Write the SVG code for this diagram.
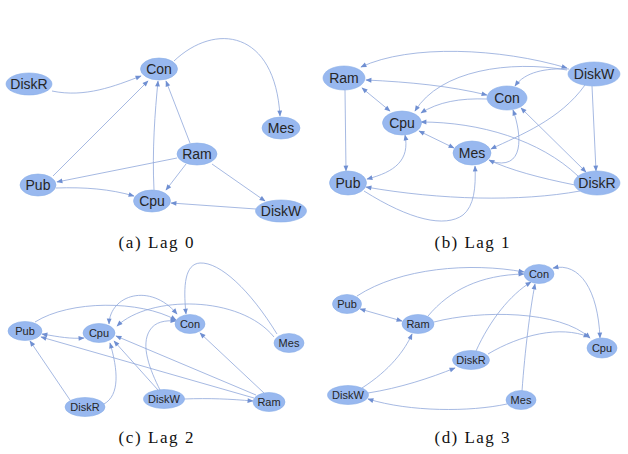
<svg xmlns="http://www.w3.org/2000/svg" width="628" height="454" viewBox="0 0 628 454">
<style>
.n{fill:#98b8ef;stroke:#8aaee8;stroke-width:0.6}
.t{font-family:"Liberation Sans",Arial,sans-serif;fill:#262626;text-anchor:middle;dominant-baseline:central}
.a .t{font-size:14px}
.s .t{font-size:11px}
.e path{fill:none;stroke:#8fa7da;stroke-width:0.8;marker-end:url(#ah)}
.e path.b{marker-start:url(#ah)}
.cap{font-family:"Liberation Serif","Times New Roman",serif;font-size:17px;fill:#111;text-anchor:middle}
</style>
<defs>
<marker id="ah" viewBox="0 0 10 10" refX="9" refY="5" markerWidth="7" markerHeight="6" markerUnits="userSpaceOnUse" orient="auto-start-reverse">
<path d="M0,1 L10,5 L0,9 z" fill="#6f8fd2"/>
</marker>
</defs>
<rect width="628" height="454" fill="#fff"/>

<!-- Panel (a) -->
<g id="conn-a" class="e">
<path d="M174,61 C215,22 275,30 280,116"/>
<path d="M52,91 C85,98 115,86 141,76"/>
<path d="M53,176 L148,81"/>
<path d="M154,190 C152,150 155,112 158,81"/>
<path d="M190,143 L166,81"/>
<path d="M177,158 L57,182"/>
<path d="M186,164 L166,190"/>
<path d="M212,164 L265,201"/>
<path d="M56,188 C85,187 110,189 134,196"/>
<path d="M256,209 L171,203"/>
</g>
<g class="a">
<g id="a-Con"><ellipse class="n" cx="159" cy="69" rx="18.5" ry="11"/><text class="t" x="159" y="69">Con</text></g>
<g id="a-DiskR"><ellipse class="n" cx="29" cy="84" rx="23" ry="11"/><text class="t" x="29" y="84">DiskR</text></g>
<g id="a-Mes"><ellipse class="n" cx="281" cy="128" rx="19" ry="11"/><text class="t" x="281" y="128">Mes</text></g>
<g id="a-Ram"><ellipse class="n" cx="197" cy="154" rx="20" ry="11"/><text class="t" x="197" y="154">Ram</text></g>
<g id="a-Pub"><ellipse class="n" cx="38" cy="185" rx="18" ry="11"/><text class="t" x="38" y="185">Pub</text></g>
<g id="a-Cpu"><ellipse class="n" cx="152" cy="201" rx="18.5" ry="11"/><text class="t" x="152" y="201">Cpu</text></g>
<g id="a-DiskW"><ellipse class="n" cx="281" cy="211" rx="25.5" ry="11"/><text class="t" x="281" y="211">DiskW</text></g>
</g>
<text class="cap" x="156" y="248" textLength="75" lengthAdjust="spacing">(a) Lag 0</text>

<!-- Panel (b) -->
<g id="conn-b" class="e">
<path class="b" d="M361,67 C410,44 500,48 567,68"/>
<path d="M569,69 C545,68 525,72 515,86"/>
<path d="M567,70 C510,60 440,70 415,111"/>
<path class="b" d="M366,80 C410,82 450,86 487,95"/>
<path d="M487,99 C460,98 438,102 421,113"/>
<path class="b" d="M362,88 L390,111"/>
<path d="M345,90 L346,171"/>
<path class="b" d="M405,135 C410,160 395,172 367,179"/>
<path class="b" d="M419,131 L454,148"/>
<path d="M578,176 C540,140 480,122 421,122"/>
<path d="M592,86 L596,171"/>
<path d="M585,85 C560,120 520,135 491,149"/>
<path class="b" d="M521,108 L586,172"/>
<path d="M490,161 C525,172 522,135 513,110"/>
<path d="M575,185 C540,178 510,170 489,160"/>
<path d="M580,191 C520,202 440,200 366,187"/>
<path d="M364,191 C410,220 445,228 463,215 C474,206 476,188 475,166"/>
</g>
<g class="a">
<g id="b-Ram"><ellipse class="n" cx="344" cy="78" rx="21" ry="12"/><text class="t" x="344" y="78">Ram</text></g>
<g id="b-DiskW"><ellipse class="n" cx="594" cy="74" rx="26" ry="12"/><text class="t" x="594" y="74">DiskW</text></g>
<g id="b-Con"><ellipse class="n" cx="507" cy="98" rx="20" ry="12"/><text class="t" x="507" y="98">Con</text></g>
<g id="b-Cpu"><ellipse class="n" cx="402" cy="123" rx="19.5" ry="12"/><text class="t" x="402" y="123">Cpu</text></g>
<g id="b-Mes"><ellipse class="n" cx="472" cy="153" rx="19" ry="12"/><text class="t" x="472" y="153">Mes</text></g>
<g id="b-Pub"><ellipse class="n" cx="348" cy="183" rx="18.5" ry="12"/><text class="t" x="348" y="183">Pub</text></g>
<g id="b-DiskR"><ellipse class="n" cx="597" cy="183" rx="23" ry="12"/><text class="t" x="597" y="183">DiskR</text></g>
</g>
<text class="cap" x="472" y="248" textLength="75" lengthAdjust="spacing">(b) Lag 1</text>

<!-- Panel (c) -->
<g id="conn-c" class="e">
<path d="M35,322 C70,300 140,300 176,320"/>
<path class="b" d="M109,324 C110,295 150,282 177,314"/>
<path d="M160,390 C150,370 140,345 150,330 C155,322 165,320 176,321"/>
<path d="M277,334 C250,290 220,262 200,263 C185,264 183,285 186,314"/>
<path d="M274,337 C240,295 150,295 117,326"/>
<path class="b" d="M42,334 C60,337 70,339 84,338"/>
<path d="M254,398 L41,337"/>
<path d="M70,400 L30,341"/>
<path d="M104,404 C120,395 118,370 110,343"/>
<path d="M158,390 L114,341"/>
<path d="M256,395 L116,336"/>
<path d="M264,393 L200,333"/>
<path d="M184,399 C210,398 230,399 253,401"/>
</g>
<g class="s">
<g id="c-Pub"><ellipse class="n" cx="25" cy="331" rx="17" ry="9.5"/><text class="t" x="25" y="331">Pub</text></g>
<g id="c-Cpu"><ellipse class="n" cx="99" cy="333" rx="16" ry="9.5"/><text class="t" x="99" y="333">Cpu</text></g>
<g id="c-Con"><ellipse class="n" cx="190" cy="324" rx="15" ry="9.5"/><text class="t" x="190" y="324">Con</text></g>
<g id="c-Mes"><ellipse class="n" cx="289" cy="343" rx="15" ry="9.5"/><text class="t" x="289" y="343">Mes</text></g>
<g id="c-DiskR"><ellipse class="n" cx="85" cy="407" rx="20" ry="9.5"/><text class="t" x="85" y="407">DiskR</text></g>
<g id="c-DiskW"><ellipse class="n" cx="164" cy="399" rx="20.5" ry="9.5"/><text class="t" x="164" y="399">DiskW</text></g>
<g id="c-Ram"><ellipse class="n" cx="269" cy="402" rx="16" ry="9.5"/><text class="t" x="269" y="402">Ram</text></g>
</g>
<text class="cap" x="156" y="443" textLength="75" lengthAdjust="spacing">(c) Lag 2</text>

<!-- Panel (d) -->
<g id="conn-d" class="e">
<path d="M357,296 C400,268 470,262 524,272"/>
<path d="M428,316 C450,290 480,275 524,274"/>
<path d="M476,351 C490,320 510,295 531,282"/>
<path d="M522,391 C525,350 530,310 535,284"/>
<path class="b" d="M553,268 C580,262 598,290 600,338"/>
<path d="M434,322 C480,310 560,310 590,338"/>
<path d="M488,354 C520,335 560,325 589,337"/>
<path class="b" d="M360,309 L402,321"/>
<path d="M362,388 C390,370 405,350 412,334"/>
<path d="M368,393 C400,388 430,378 455,368"/>
<path d="M507,404 C470,412 410,412 368,399"/>
</g>
<g class="s">
<g id="d-Con"><ellipse class="n" cx="539" cy="274" rx="15" ry="9.5"/><text class="t" x="539" y="274">Con</text></g>
<g id="d-Pub"><ellipse class="n" cx="347" cy="304" rx="14.5" ry="9.5"/><text class="t" x="347" y="304">Pub</text></g>
<g id="d-Ram"><ellipse class="n" cx="418" cy="324" rx="16" ry="9.5"/><text class="t" x="418" y="324">Ram</text></g>
<g id="d-Cpu"><ellipse class="n" cx="602" cy="348" rx="15" ry="10"/><text class="t" x="602" y="348">Cpu</text></g>
<g id="d-DiskR"><ellipse class="n" cx="471" cy="360" rx="18.5" ry="9.5"/><text class="t" x="471" y="360">DiskR</text></g>
<g id="d-DiskW"><ellipse class="n" cx="348" cy="395" rx="20.5" ry="9.5"/><text class="t" x="348" y="395">DiskW</text></g>
<g id="d-Mes"><ellipse class="n" cx="521" cy="400" rx="15" ry="9.5"/><text class="t" x="521" y="400">Mes</text></g>
</g>
<text class="cap" x="472" y="443" textLength="75" lengthAdjust="spacing">(d) Lag 3</text>
</svg>
